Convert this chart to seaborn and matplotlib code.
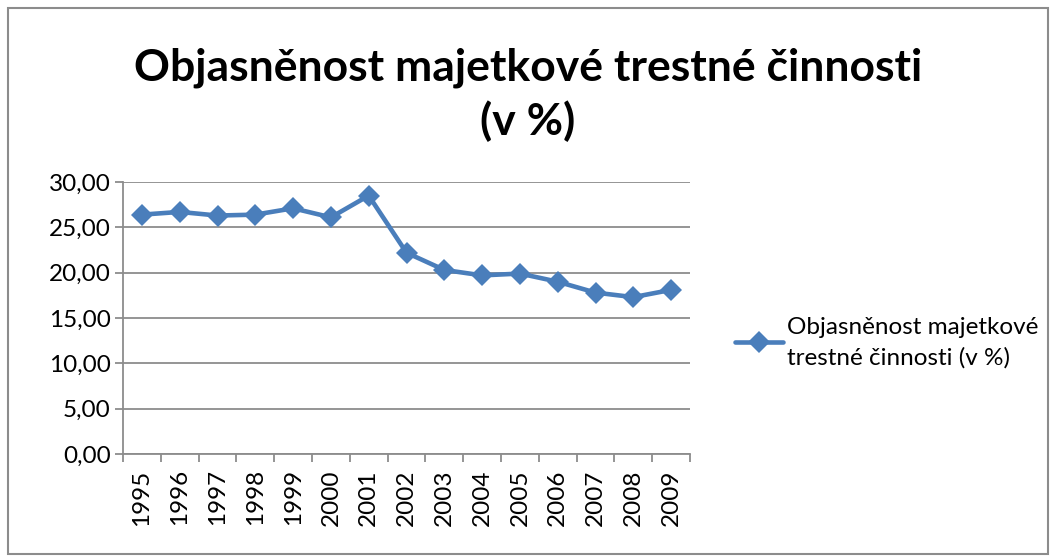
import pandas as pd
import numpy as np
import seaborn as sns
import matplotlib.pyplot as plt
from matplotlib.ticker import FuncFormatter, FixedLocator, NullFormatter
from matplotlib.patches import Rectangle

# Data
years = ['1995', '1996', '1997', '1998', '1999', '2000', '2001', '2002',
         '2003', '2004', '2005', '2006', '2007', '2008', '2009']
values = [26.4, 26.7, 26.3, 26.4, 27.1, 26.1, 28.5, 22.2,
          20.3, 19.7, 19.9, 19.0, 17.8, 17.3, 18.1]
series_name = 'Objasněnost majetkové\ntrestné činnosti (v %)'
title = 'Objasněnost majetkové trestné činnosti\n(v %)'

df = pd.DataFrame({'Rok': years, 'Hodnota': values})

sns.set_theme(style='white')
plt.rcParams['font.family'] = ['Lato', 'DejaVu Sans']
plt.rcParams['text.color'] = 'black'
plt.rcParams['xtick.color'] = 'black'
plt.rcParams['ytick.color'] = 'black'

fig = plt.figure(figsize=(10.56, 5.56), dpi=100)
ax = fig.add_axes([123 / 1056, 1 - 454 / 556, (690 - 123) / 1056, (454 - 182) / 556])

line_col = '#4A7EBB'
sns.lineplot(data=df, x='Rok', y='Hodnota', ax=ax, sort=False, color=line_col,
             linewidth=3.3, marker='D', markersize=11, markeredgewidth=0,
             label=series_name)

ax.set_xlim(-0.5, len(years) - 0.5)
ax.set_ylim(0, 30)
ax.set_yticks(np.arange(0, 31, 5))
ax.yaxis.set_major_formatter(FuncFormatter(lambda v, p: f'{v:.2f}'.replace('.', ',')))
ax.yaxis.grid(True, color='#8c8c8c', linewidth=1.3)
ax.set_axisbelow(True)

# x ticks: labels centred, tick marks between categories
ax.set_xticks(range(len(years)))
ax.set_xticklabels(years, rotation=90)
ax.xaxis.set_minor_locator(FixedLocator(np.arange(-0.5, len(years), 1)))
ax.xaxis.set_minor_formatter(NullFormatter())
ax.tick_params(axis='x', which='major', length=0, pad=11, labelsize=17.5, labelcolor='black')
ax.tick_params(axis='x', which='minor', length=6, width=1.3, color='#8c8c8c', direction='out', bottom=True)
ax.tick_params(axis='y', which='major', length=6, width=1.3, color='#8c8c8c', direction='out',
               left=True, labelsize=17.5, labelcolor='black', pad=3)

for s in ['top', 'right']:
    ax.spines[s].set_visible(False)
for s in ['left', 'bottom']:
    ax.spines[s].set_color('#8c8c8c')
    ax.spines[s].set_linewidth(1.3)

ax.set_xlabel('')
ax.set_ylabel('')

leg = ax.legend(loc='center left', bbox_to_anchor=(1.04, 0.41), frameon=False,
                fontsize=17.5, handlelength=2.0, handletextpad=0.15, labelspacing=0.2)
for t in leg.get_texts():
    t.set_linespacing(1.5)

fig.text(0.5, 1 - 95 / 556, title, ha='center', va='center', fontsize=32,
         fontweight='bold', linespacing=1.35, color='black')

# chart border
fig.patches.append(Rectangle((8 / 1056, 0.003), 1040 / 1056, 1 - 10 / 556,
                             transform=fig.transFigure, fill=False,
                             edgecolor='#8c8c8c', linewidth=1.5))

fig.savefig('out.png', dpi=100)
